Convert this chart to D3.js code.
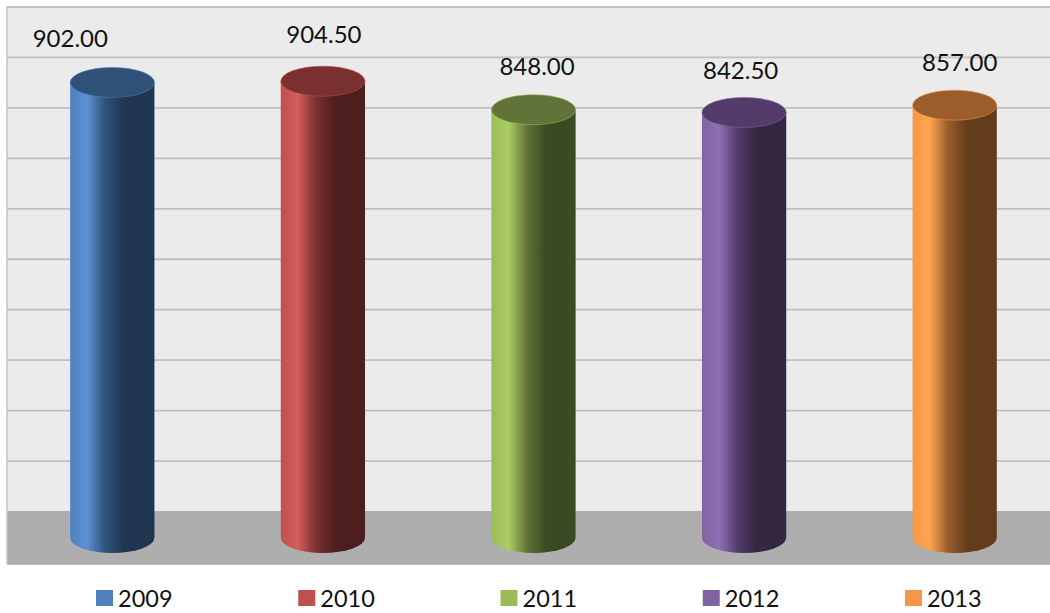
<!DOCTYPE html>
<html>
<head>
<meta charset="utf-8">
<script src="https://cdnjs.cloudflare.com/ajax/libs/d3/7.8.5/d3.min.js"></script>
<style>
html,body{margin:0;padding:0;background:#fff}
svg{display:block}
text{font-family:Lato,"Open Sans",sans-serif;fill:#111}
</style>
</head>
<body>
<svg id="chart" width="1050" height="613"></svg>
<script>
// Yearly values
const years = ["2009", "2010", "2011", "2012", "2013"];
const values = [902.0, 904.5, 848.0, 842.5, 857.0];
const gridTicks = [0, 100, 200, 300, 400, 500, 600, 700, 800, 900, 1000];

// Series palette
const baseColors = ["#4F81BD", "#C0504D", "#9BBB59", "#8064A2", "#F79646"];
const litColors = ["#5C91D3", "#D25F5B", "#ABCE63", "#8E70B4", "#FFA652"];
const capColors = ["#2F5178", "#7A3030", "#627339", "#533C69", "#9A5D2B"];
const shadeColors = ["#1F3550", "#4C1F1E", "#3B4A22", "#332741", "#633C1C"];

// Hand-placed data labels, offset from the top of each cylinder
const labelDx = [-42, 1, 3.5, -3.5, 5];
const labelDy = [-44.5, -47.5, -44, -43, -44];

const svg = d3.select("#chart");
const wallLeft = 7, wallTop = 6.5, wallBase = 511, floorBase = 564;
const width = 1050;

// The back wall and the front plane share a scale, shifted by the floor depth
const depth = 26.5;
const yWall = d3.scaleLinear().domain([0, 1000]).range([wallBase, wallTop]);
const yFront = v => yWall(v) + depth;
const x = d3.scaleBand().domain(years).range([wallLeft, 1060]);
const rx = x.step() * 0.2;
const ry = 15;

// Walls and floor
svg.append("rect").attr("x", wallLeft).attr("y", wallTop)
  .attr("width", width - wallLeft).attr("height", wallBase - wallTop).attr("fill", "#EBEBEB");
svg.append("rect").attr("x", wallLeft).attr("y", wallBase)
  .attr("width", width - wallLeft).attr("height", floorBase - wallBase).attr("fill", "#AEAEAE");
svg.append("line").attr("x1", wallLeft).attr("x2", width).attr("y1", floorBase).attr("y2", floorBase)
  .attr("stroke", "#A6A6A6").attr("stroke-width", 1.5);
svg.append("line").attr("x1", wallLeft).attr("x2", wallLeft).attr("y1", wallTop).attr("y2", floorBase)
  .attr("stroke", "#C4C4C4").attr("stroke-width", 1.5);

// Gridlines
const grid = svg.append("g").attr("transform", `translate(${wallLeft},0)`)
  .call(d3.axisRight(yWall).tickValues(gridTicks).tickSize(width - wallLeft).tickFormat(""));
grid.select(".domain").remove();
grid.selectAll("line").attr("stroke", "#C0C0C0").attr("stroke-width", 1.8);
grid.selectAll(".tick").filter(d => d === 0).remove();

// One horizontal shading per cylinder
const defs = svg.append("defs");
years.forEach((year, i) => {
  const g = defs.append("linearGradient").attr("id", "body" + year);
  [[0, baseColors[i]], [0.2, litColors[i]], [0.42, capColors[i]], [0.65, shadeColors[i]], [1, shadeColors[i]]]
    .forEach(([o, c]) => g.append("stop").attr("offset", o).attr("stop-color", c));
});

// Cylinders
const bars = svg.append("g").selectAll("g").data(years).join("g")
  .attr("transform", d => `translate(${x(d) + x.bandwidth() / 2},0)`);

bars.append("path")
  .attr("fill", d => `url(#body${d})`)
  .attr("d", (d, i) => {
    const top = yFront(values[i]), bottom = yFront(0);
    return `M${-rx},${top}L${-rx},${bottom}A${rx},${ry + 0.5} 0 0 0 ${rx},${bottom}L${rx},${top}Z`;
  });

bars.append("ellipse")
  .attr("rx", rx).attr("ry", ry)
  .attr("cy", (d, i) => yFront(values[i]))
  .attr("fill", (d, i) => capColors[i])
  .attr("stroke", (d, i) => baseColors[i])
  .attr("stroke-opacity", 0.7)
  .attr("stroke-width", 0.8);

// Data labels
bars.append("text")
  .attr("text-anchor", "middle")
  .attr("dominant-baseline", "central")
  .attr("font-size", 24)
  .attr("x", (d, i) => labelDx[i])
  .attr("y", (d, i) => yFront(values[i]) + labelDy[i])
  .text((d, i) => values[i].toFixed(2));

// Legend
const legendX = d3.scalePoint().domain(years).range([96, 905]);
const legend = svg.append("g").selectAll("g").data(years).join("g")
  .attr("transform", d => `translate(${legendX(d)},590)`);
legend.append("rect").attr("width", 17).attr("height", 16)
  .attr("fill", (d, i) => baseColors[i]);
legend.append("text").attr("x", 22).attr("y", 7.5)
  .attr("dominant-baseline", "central").attr("font-size", 23.5)
  .text(d => d);
</script>
</body>
</html>
